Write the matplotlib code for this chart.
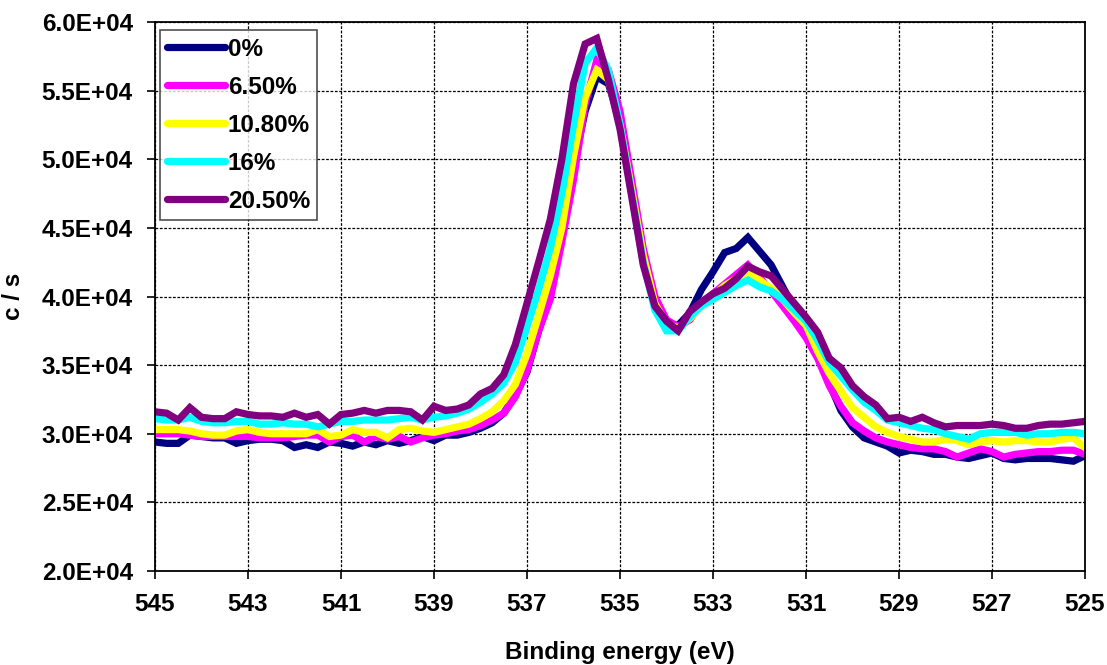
import numpy as np
import matplotlib
matplotlib.use('Agg')
import matplotlib.pyplot as plt
from matplotlib.ticker import FuncFormatter, MultipleLocator

plt.rcParams['font.family'] = ['Liberation Sans', 'DejaVu Sans']
plt.rcParams['font.weight'] = 'bold'

# binding energy grid (eV), 0.25 eV steps from 545 down to 525
energy = np.arange(545.0, 524.99, -0.25)
xticks = [545, 543, 541, 539, 537, 535, 533, 531, 529, 527, 525]

# counts per second
cps_0 = [29400, 29300, 29300, 29900, 29800, 29700, 29700, 29300, 29500, 29600,
         29600, 29500, 29000, 29200, 29000, 29400, 29300, 29100, 29400, 29200,
         29500, 29300, 29500, 29800, 29500, 29900, 29900, 30100, 30400, 30800,
         31500, 32800, 34500, 37500, 40000, 44500, 49500, 53500, 56000, 55500,
         52800, 48000, 43000, 39300, 38000, 37900, 38800, 40500, 41800, 43200,
         43500, 44300, 43300, 42300, 40700, 39100, 37700, 36000, 33700, 31700,
         30500, 29700, 29400, 29100, 28600, 28800, 28700, 28500, 28500, 28300,
         28200, 28400, 28600, 28200, 28100, 28200, 28200, 28200, 28100, 28000,
         28400]
cps_6_5 = [30000, 30000, 30000, 29900, 29800, 29800, 29800, 29800, 29800, 29700,
           29700, 29700, 29800, 29900, 29900, 29400, 29800, 29900, 29400, 29800,
           29600, 29800, 29400, 29700, 29900, 30000, 30200, 30300, 30600, 31000,
           31500, 32700, 34600, 37500, 39800, 44000, 48500, 54000, 57200, 56500,
           53500, 48500, 43500, 40000, 38300, 37800, 38300, 39500, 40200, 40900,
           41600, 42300, 41400, 40400, 39300, 38200, 37000, 35500, 33500, 32000,
           30800, 30200, 29700, 29400, 29200, 29000, 28900, 28900, 28700, 28300,
           28600, 28900, 28700, 28300, 28500, 28600, 28700, 28700, 28800, 28800,
           28500]
cps_10_8 = [30300, 30300, 30300, 30200, 30000, 29900, 29900, 30200, 30300, 30100,
            30000, 30000, 30000, 30000, 30300, 29800, 29900, 30300, 30100, 30100,
            29700, 30300, 30400, 30200, 30100, 30300, 30500, 30700, 31100, 31600,
            32400, 33600, 35800, 38600, 41500, 45000, 50200, 54500, 56500, 55800,
            52500, 47800, 43000, 39500, 38000, 37700, 38400, 39300, 40000, 40800,
            41300, 41700, 41200, 40600, 39800, 38800, 37900, 36000, 34400, 33100,
            31900, 31200, 30500, 30100, 29800, 29600, 29400, 29400, 29600, 29500,
            29200, 29400, 29500, 29400, 29500, 29500, 29400, 29400, 29600, 29700,
            29000]
cps_16 = [31100, 31000, 31000, 31200, 30900, 30800, 30800, 30900, 30900, 30700,
          30700, 30800, 30700, 30700, 30500, 30700, 30900, 30900, 31000, 31000,
          31000, 31100, 31200, 31000, 31200, 31300, 31500, 31800, 32300, 32900,
          33700, 35200, 37800, 40500, 43500, 47500, 52500, 57000, 58100, 56500,
          52500, 47500, 42500, 39000, 37500, 37500, 38500, 39300, 39800, 40300,
          40800, 41200, 40700, 40400, 39800, 39000, 38200, 36800, 35200, 34200,
          33200, 32300, 31700, 31000, 30800, 30600, 30400, 30300, 30000, 29800,
          29600, 30000, 30100, 30100, 30100, 29900, 30000, 30000, 30100, 30100,
          30000]
cps_20_5 = [31600, 31500, 31000, 31900, 31200, 31100, 31100, 31600, 31400, 31300,
            31300, 31200, 31500, 31200, 31400, 30700, 31400, 31500, 31700, 31500,
            31700, 31700, 31600, 31000, 32000, 31700, 31800, 32100, 32900, 33300,
            34300, 36500, 39500, 42500, 45600, 50000, 55500, 58400, 58800, 55800,
            52200, 47300, 42300, 39300, 38200, 37500, 38900, 39600, 40200, 40600,
            41300, 42200, 41800, 41500, 40500, 39500, 38500, 37400, 35500, 34800,
            33500, 32700, 32100, 31100, 31200, 30900, 31200, 30800, 30500, 30600,
            30600, 30600, 30700, 30600, 30400, 30400, 30600, 30700, 30700, 30800,
            30900]

labels = ['0%', '6.50%', '10.80%', '16%', '20.50%']
colors = ['#000080', '#FF00FF', '#FFFF00', '#00FFFF', '#800080']
series = [cps_0, cps_6_5, cps_10_8, cps_16, cps_20_5]

fig = plt.figure(figsize=(11.07, 6.65), dpi=100)
ax = fig.add_axes([155 / 1107, 1 - 571 / 665, 930 / 1107, 549 / 665])

for y, c, lab in zip(series, colors, labels):
    ax.plot(energy, y, color=c, lw=5.2, label=lab, solid_joinstyle='miter')

ax.set_xlim(545, 525)
ax.set_ylim(20000, 60000)
ax.set_xticks(xticks)
ax.yaxis.set_major_locator(MultipleLocator(5000))
ax.yaxis.set_major_formatter(FuncFormatter(lambda v, p: f'{v:.1E}'))

ax.grid(True, color='black', lw=0.9, linestyle=(0, (2.2, 1.3)))
ax.set_axisbelow(True)
for s in ax.spines.values():
    s.set_linewidth(1.3)
    s.set_color('black')
ax.tick_params(direction='out', length=6, width=1.2, labelsize=17.5, pad=10)

ax.set_xlabel('Binding energy (eV)', fontsize=17.5, fontweight='bold', labelpad=18)
ax.set_ylabel('c / s', fontsize=17.5, fontweight='bold', labelpad=12)

leg = ax.legend(loc='upper left', bbox_to_anchor=(0.005, 0.985), borderaxespad=0,
                fontsize=17.5, frameon=True, fancybox=False, handlelength=2.4,
                handletextpad=0.1, borderpad=0.3, labelspacing=0.62)
leg.get_frame().set_edgecolor('#222222')
leg.get_frame().set_linewidth(1.2)
for h in leg.get_lines():
    h.set_solid_capstyle('round')

fig.savefig('out.png', dpi=100)
